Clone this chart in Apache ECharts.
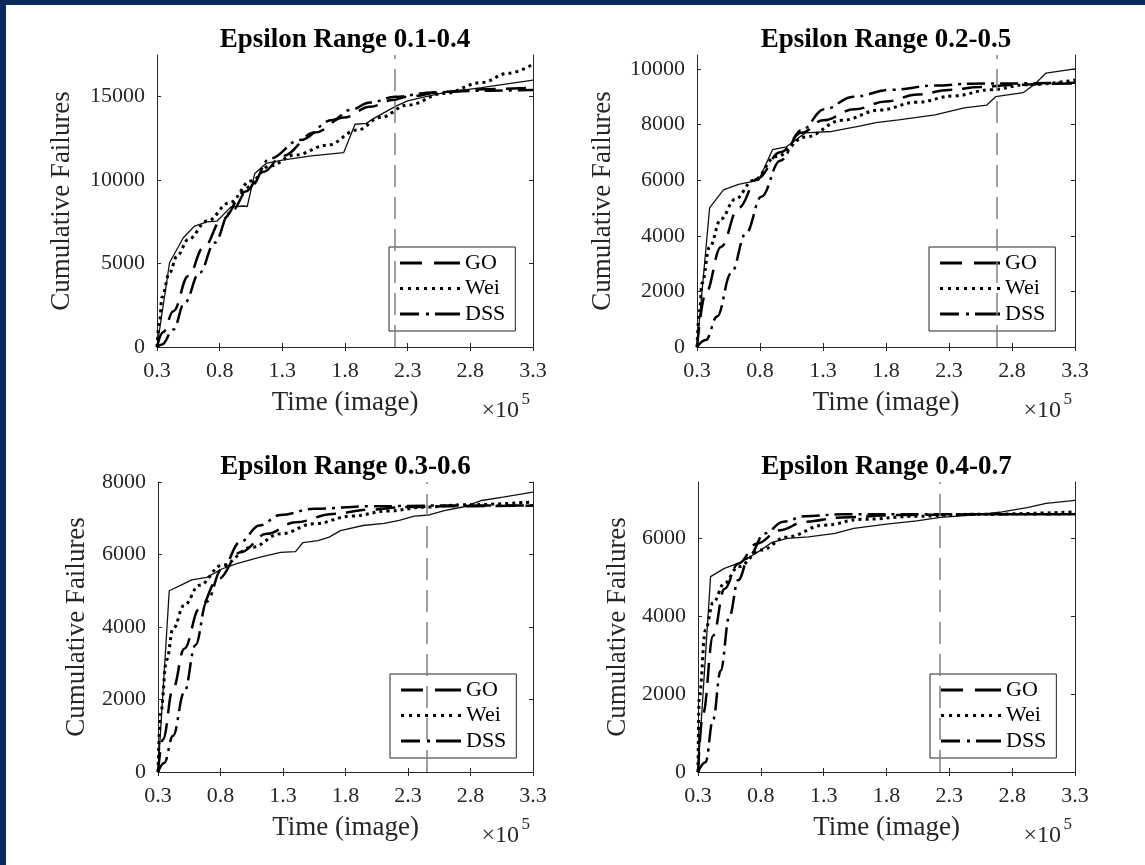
<!DOCTYPE html>
<html lang="en">
<head>
  <meta charset="UTF-8">
  <title>Cumulative Failures</title>
  <script src="https://cdn.jsdelivr.net/npm/echarts@6/dist/echarts.min.js"></script>
  <style>
    html,body{margin:0;padding:0;background:#0b2a5c;}
    #main{position:absolute;left:6px;top:5px;width:1139px;height:860px;background:#fff;}
  </style>
</head>
<body>
<div id="main"></div>
<script>
  // time in units of 1e5
  var xTicks = [0.3, 0.8, 1.3, 1.8, 2.3, 2.8, 3.3];
  var titles = ['Epsilon Range 0.1-0.4', 'Epsilon Range 0.2-0.5', 'Epsilon Range 0.3-0.6', 'Epsilon Range 0.4-0.7'];
  var legendNames = ['GO', 'Wei', 'DSS'];
  var yMax = [17500, 10500, 8000, 7450];
  var yTicks1 = [0, 5000, 10000, 15000];
  var yTicks2 = [0, 2000, 4000, 6000, 8000, 10000];
  var yTicks3 = [0, 2000, 4000, 6000, 8000];
  var yTicks4 = [0, 2000, 4000, 6000];
  var vLines = [2.2, 2.68, 2.45, 2.22];

  // panel 1
  var obs1 = [[0.3,0],[0.40,5050],[0.51,6550],[0.60,7250],[0.70,7500],[0.78,7550],[0.89,8400],[0.99,8450],[1.02,8420],[1.08,10400],[1.17,11000],[1.30,11200],[1.53,11450],[1.79,11650],[1.88,13350],[1.97,13400],[2.03,13700],[2.21,14450],[2.30,14750],[2.41,14950],[2.59,15250],[2.89,15550],[3.3,16000]];
  var go1 = [[0.3,0],[0.35,900],[0.43,2150],[0.55,4250],[0.67,5950],[0.82,7650],[1.0,9300],[1.15,10500],[1.3,11450],[1.56,12850],[1.79,13750],[2.0,14400],[2.18,14800],[2.3,15000],[2.59,15300],[2.9,15450],[3.3,15550]];
  var wei1 = [[0.3,0],[0.32,1500],[0.34,3000],[0.40,4450],[0.46,5450],[0.55,6450],[0.70,7550],[0.88,8650],[1.05,9950],[1.20,10850],[1.40,11500],[1.66,12100],[1.90,13000],[2.08,13750],[2.3,14500],[2.59,15200],[2.89,15850],[3.1,16400],[3.3,16950]];
  var dss1 = [[0.3,0],[0.34,150],[0.43,1050],[0.52,2650],[0.64,4450],[0.76,6250],[0.88,8050],[1.05,9650],[1.2,11300],[1.44,12400],[1.7,13600],[1.84,14200],[2.0,14650],[2.2,15000],[2.5,15250],[2.8,15350],[3.3,15400]];

  // panel 2
  var obs2 = [[0.3,0],[0.40,5000],[0.51,5650],[0.63,5850],[0.79,6000],[0.90,7100],[1.01,7200],[1.16,7700],[1.37,7750],[1.60,7950],[1.72,8070],[1.90,8170],[2.19,8350],[2.42,8600],[2.60,8700],[2.67,9000],[2.89,9150],[2.98,9450],[3.07,9850],[3.3,10000]];
  var go2 = [[0.3,0],[0.37,1950],[0.49,3600],[0.63,5000],[0.78,6050],[0.96,7000],[1.13,7700],[1.3,8150],[1.55,8550],[1.8,8830],[2.05,9080],[2.3,9245],[2.55,9350],[2.8,9420],[3.05,9460],[3.3,9480]];
  var wei2 = [[0.3,0],[0.32,1300],[0.34,2300],[0.40,3600],[0.49,4600],[0.60,5300],[0.75,6000],[0.93,6850],[1.16,7550],[1.45,8150],[1.75,8520],[2.04,8800],[2.34,9030],[2.63,9250],[2.92,9430],[3.3,9600]];
  var dss2 = [[0.3,0],[0.37,250],[0.46,1100],[0.57,2650],[0.69,4100],[0.81,5400],[0.96,6700],[1.13,7800],[1.31,8550],[1.54,9000],[1.84,9250],[2.19,9400],[2.48,9470],[3.3,9500]];

  // panel 3
  var obs3 = [[0.3,0],[0.39,5000],[0.48,5150],[0.57,5300],[0.69,5370],[0.81,5600],[0.93,5750],[1.11,5920],[1.28,6060],[1.40,6080],[1.46,6330],[1.58,6380],[1.67,6480],[1.76,6660],[1.94,6800],[2.11,6860],[2.23,6940],[2.35,7060],[2.47,7090],[2.59,7210],[2.74,7310],[2.89,7490],[3.06,7580],[3.3,7720]];
  var go3 = [[0.3,0],[0.34,900],[0.42,2300],[0.51,3400],[0.63,4500],[0.78,5320],[0.96,6060],[1.17,6570],[1.40,6890],[1.70,7120],[1.99,7240],[2.29,7310],[2.59,7330],[3.3,7350]];
  var wei3 = [[0.3,0],[0.32,1600],[0.37,3100],[0.42,3950],[0.51,4600],[0.63,5150],[0.81,5700],[1.05,6200],[1.28,6570],[1.55,6850],[1.85,7060],[2.14,7200],[2.44,7310],[2.74,7370],[3.3,7450]];
  var dss3 = [[0.3,0],[0.35,250],[0.42,1000],[0.51,2200],[0.60,3500],[0.69,4700],[0.81,5600],[0.96,6350],[1.11,6800],[1.28,7090],[1.55,7260],[1.99,7330],[2.59,7350],[3.3,7350]];

  // panel 4
  var obs4 = [[0.3,0],[0.40,5020],[0.51,5230],[0.65,5400],[0.80,5700],[0.89,5900],[1.01,6000],[1.18,6040],[1.39,6130],[1.54,6260],[1.80,6370],[2.04,6450],[2.23,6540],[2.48,6600],[2.72,6680],[2.92,6790],[3.07,6900],[3.3,6980]];
  var go4 = [[0.3,0],[0.34,1500],[0.42,3500],[0.51,4700],[0.62,5350],[0.77,5870],[0.95,6210],[1.15,6430],[1.45,6540],[1.89,6600],[2.48,6620],[3.3,6620]];
  var wei4 = [[0.3,0],[0.31,1950],[0.36,3650],[0.42,4350],[0.51,4850],[0.62,5270],[0.80,5700],[1.01,6040],[1.30,6340],[1.60,6490],[2.04,6570],[2.48,6620],[3.3,6680]];
  var dss4 = [[0.3,0],[0.36,250],[0.42,1350],[0.48,2600],[0.55,4000],[0.62,4930],[0.71,5570],[0.83,6130],[0.98,6430],[1.15,6570],[1.45,6620],[3.3,6620]];

  var panels = [
    {obs: obs1, go: go1, wei: wei1, dss: dss1, yTicks: yTicks1},
    {obs: obs2, go: go2, wei: wei2, dss: dss2, yTicks: yTicks2},
    {obs: obs3, go: go3, wei: wei3, dss: dss3, yTicks: yTicks3},
    {obs: obs4, go: go4, wei: wei4, dss: dss4, yTicks: yTicks4}
  ];

  // plot boxes, relative to the white sheet
  var grids = [
    {left: 151, top: 50, width: 376, height: 292},
    {left: 691, top: 50, width: 378, height: 292},
    {left: 152, top: 477, width: 375, height: 290},
    {left: 692, top: 477, width: 377, height: 290}
  ];
  var yNameGap = [82, 81, 68, 67];

  // legend samples drawn as filled dash shapes (60 x 3 box)
  var iconGO = 'path://M0 0h22v3h-22z M34 0h26v3h-26z';
  var iconWei = 'path://M0 0h3v3h-3z M8 0h3v3h-3z M16 0h3v3h-3z M24 0h3v3h-3z M32 0h3v3h-3z M40 0h3v3h-3z M48 0h3v3h-3z M57 0h3v3h-3z';
  var iconDSS = 'path://M0 0h19v3h-19z M26 0h3v3h-3z M35 0h25v3h-25z';

  var font = "'Liberation Serif','Times New Roman',serif";
  var axisColor = '#262626';
  var chart = echarts.init(document.getElementById('main'));

  var option = {animation: false, title: [], legend: [], grid: [], xAxis: [], yAxis: [], series: []};

  panels.forEach(function (p, i) {
    var g = grids[i];
    option.grid.push({left: g.left, top: g.top, width: g.width, height: g.height});

    option.title.push({text: titles[i], left: g.left + g.width / 2, top: g.top - 28, textAlign: 'center', padding: 0,
      textStyle: {fontFamily: font, fontSize: 27, fontWeight: 'bold', color: '#000'}});
    option.title.push({text: '×10', left: g.left + g.width - 14, top: g.top + g.height + 52, textAlign: 'right', padding: 0,
      textStyle: {fontFamily: font, fontSize: 24, fontWeight: 'normal', color: axisColor}});
    option.title.push({text: '5', left: g.left + g.width - 3, top: g.top + g.height + 44, textAlign: 'right', padding: 0,
      textStyle: {fontFamily: font, fontSize: 17, fontWeight: 'normal', color: axisColor}});

    option.legend.push({
      data: [{name: 'GO', icon: iconGO}, {name: 'Wei', icon: iconWei}, {name: 'DSS', icon: iconDSS}],
      orient: 'vertical', left: g.left + 232, top: g.top + 192,
      itemWidth: 60, itemHeight: 3, itemGap: 3.5, padding: [5, 10, 6, 11],
      borderColor: axisColor, borderWidth: 1, backgroundColor: '#fff', selectedMode: false,
      itemStyle: {color: '#000', borderWidth: 0},
      textStyle: {fontFamily: font, fontSize: 22, lineHeight: 22, color: '#000'}
    });

    var lineCommon = {show: true, lineStyle: {color: axisColor, width: 1}};
    option.xAxis.push({
      type: 'value', gridIndex: i, min: 0.3, max: 3.3,
      axisLine: lineCommon,
      axisTick: {show: true, inside: true, length: 4, customValues: xTicks, lineStyle: {color: axisColor}},
      axisLabel: {customValues: xTicks, margin: 13, fontFamily: font, fontSize: 22, color: axisColor,
        formatter: function (v) { return v.toFixed(1); }},
      splitLine: {show: false},
      name: 'Time (image)', nameLocation: 'middle', nameGap: 42,
      nameTextStyle: {fontFamily: font, fontSize: 27, color: axisColor}
    });
    option.xAxis.push({
      type: 'value', gridIndex: i, min: 0.3, max: 3.3, position: 'top',
      axisLine: lineCommon,
      axisTick: {show: true, inside: true, length: 4, customValues: xTicks, lineStyle: {color: axisColor}},
      axisLabel: {show: false}, splitLine: {show: false}
    });
    option.yAxis.push({
      type: 'value', gridIndex: i, min: 0, max: yMax[i],
      axisLine: lineCommon,
      axisTick: {show: true, inside: true, length: 4, customValues: p.yTicks, lineStyle: {color: axisColor}},
      axisLabel: {customValues: p.yTicks, margin: 12, fontFamily: font, fontSize: 22, color: axisColor,
        formatter: function (v) { return String(v); }},
      splitLine: {show: false},
      name: 'Cumulative Failures', nameLocation: 'middle', nameGap: yNameGap[i],
      nameTextStyle: {fontFamily: font, fontSize: 27, color: axisColor}
    });
    option.yAxis.push({
      type: 'value', gridIndex: i, min: 0, max: yMax[i], position: 'right',
      axisLine: lineCommon,
      axisTick: {show: true, inside: true, length: 4, customValues: p.yTicks, lineStyle: {color: axisColor}},
      axisLabel: {show: false}, splitLine: {show: false}
    });

    var xi = i * 2, yi = i * 2;
    option.series.push({
      name: 'Observed', type: 'line', xAxisIndex: xi, yAxisIndex: yi, data: p.obs, symbol: 'none',
      lineStyle: {color: '#111', width: 1.3}, z: 3,
      markLine: {silent: true, symbol: ['none', 'none'], label: {show: false},
        lineStyle: {color: '#808080', width: 1.5, type: [22, 10]}, data: [{xAxis: vLines[i]}]}
    });
    option.series.push({
      name: 'GO', type: 'line', xAxisIndex: xi, yAxisIndex: yi, data: p.go, symbol: 'none',
      smooth: 0.4, smoothMonotone: 'x', color: '#000',
      lineStyle: {color: '#000', width: 2.5, type: [20, 10]}
    });
    option.series.push({
      name: 'Wei', type: 'line', xAxisIndex: xi, yAxisIndex: yi, data: p.wei, symbol: 'none',
      smooth: 0.4, smoothMonotone: 'x', color: '#000',
      lineStyle: {color: '#000', width: 3, type: [3, 4]}
    });
    option.series.push({
      name: 'DSS', type: 'line', xAxisIndex: xi, yAxisIndex: yi, data: p.dss, symbol: 'none',
      smooth: 0.4, smoothMonotone: 'x', color: '#000',
      lineStyle: {color: '#000', width: 2.5, type: [18, 6, 3, 6]}
    });
  });

  chart.setOption(option);
</script>
</body>
</html>
